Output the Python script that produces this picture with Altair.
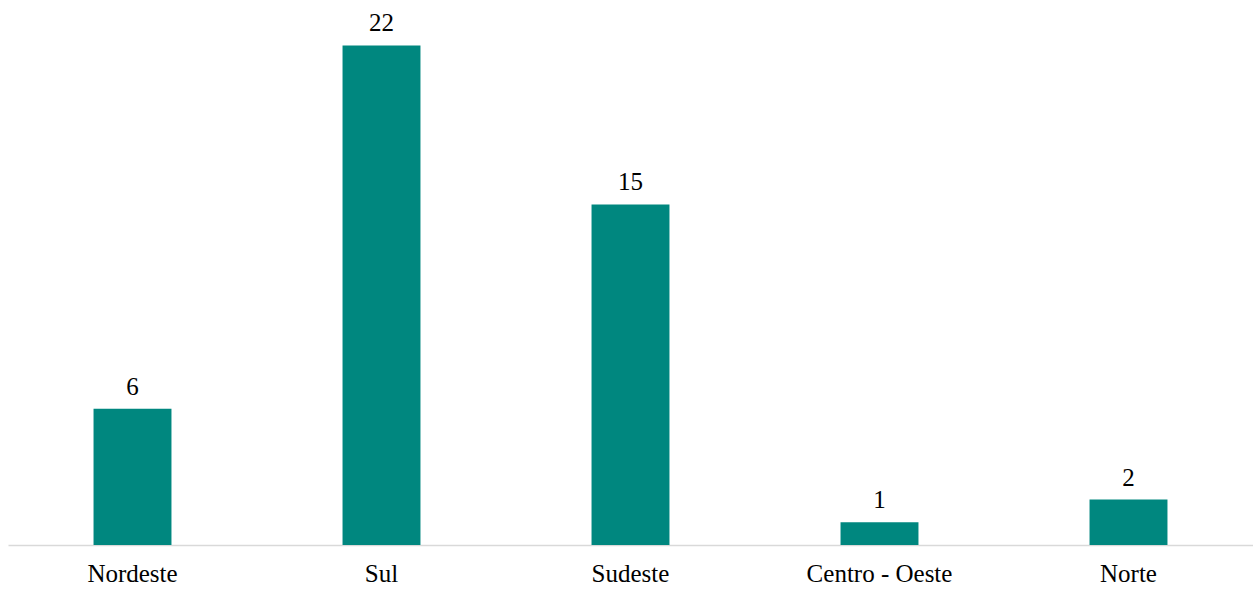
import altair as alt
import pandas as pd

regioes = ["Nordeste", "Sul", "Sudeste", "Centro - Oeste", "Norte"]
valores = [6, 22, 15, 1, 2]

df = pd.DataFrame({"regiao": regioes, "valor": valores})

x = alt.X("regiao:N", sort=regioes,
          scale=alt.Scale(paddingInner=0.687, paddingOuter=0.3435),
          axis=alt.Axis(title=None, labelAngle=0, ticks=False, domain=True,
                        domainColor="#d9d9d9", domainWidth=1.5,
                        labelFont="Liberation Serif", labelFontSize=25,
                        labelColor="#000000", labelPadding=16, grid=False))
y = alt.Y("valor:Q", scale=alt.Scale(domain=[0, 24]), axis=None)

bars = alt.Chart(df).mark_bar(color="#00877f").encode(x=x, y=y)
text = alt.Chart(df).mark_text(font="Liberation Serif", fontSize=25, color="#000000",
                               baseline="alphabetic", dy=-14).encode(
    x=x, y=y, text="valor:Q")

chart = (bars + text).properties(
    width=1245, height=545,
    autosize=alt.AutoSizeParams(type="none"),
    padding={"left": 8, "top": 0, "right": 0, "bottom": 44},
).configure_view(stroke=None)

chart.save("out.html", embed_options={"renderer": "svg", "actions": False})
